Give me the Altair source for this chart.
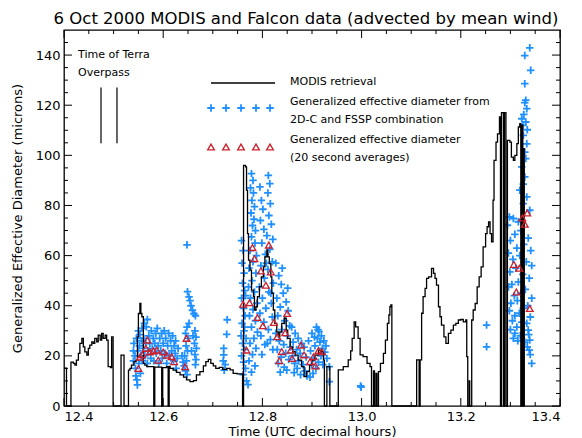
import altair as alt
import pandas as pd

FONT = "DejaVu Sans"

title_text = "6 Oct 2000 MODIS and Falcon data (advected by mean wind)"
x_title = "Time (UTC decimal hours)"
y_title = "Generalized Effective Diameter (microns)"

x_major = [12.4, 12.6, 12.8, 13.0, 13.2, 13.4]
x_minor = [12.45, 12.5, 12.55, 12.65, 12.7, 12.75, 12.85, 12.9, 12.95,
           13.05, 13.1, 13.15, 13.25, 13.3, 13.35]
y_major = [0, 20, 40, 60, 80, 100, 120, 140]
y_minor = [5, 10, 15, 25, 30, 35, 45, 50, 55, 65, 70, 75, 85, 90, 95,
           105, 110, 115, 125, 130, 135, 145]

# MODIS retrieval (time, diameter); 0 = missing retrieval
modis = [
    (12.400, 15.1), (12.405, 0), (12.414, 17.5), (12.419, 17.0), (12.422, 16.3),
    (12.425, 18.3), (12.429, 21.0), (12.432, 25.0), (12.436, 27.0), (12.439, 23.6),
    (12.442, 21.6), (12.446, 20.3), (12.449, 23.0), (12.452, 24.3), (12.456, 25.6),
    (12.459, 25.0), (12.462, 27.0), (12.466, 25.6), (12.469, 28.3), (12.473, 26.3),
    (12.476, 29.0), (12.479, 27.0), (12.483, 28.3), (12.486, 26.3), (12.489, 15.7),
    (12.494, 15.3), (12.496, 27.6), (12.499, 0), (12.515, 20.3), (12.521, 0),
    (12.530, 14.3), (12.533, 15.0), (12.536, 16.3), (12.541, 17.7), (12.545, 18.3),
    (12.548, 27.6), (12.550, 36.9), (12.553, 40.9), (12.555, 36.9), (12.557, 35.6),
    (12.560, 17.0), (12.563, 16.3), (12.567, 15.7), (12.581, 0), (12.583, 15.5),
    (12.597, 0), (12.599, 15.3), (12.607, 15.7), (12.610, 0), (12.612, 15.8),
    (12.614, 15.0), (12.620, 14.3), (12.627, 13.4), (12.634, 12.4), (12.641, 11.5),
    (12.647, 10.4), (12.654, 9.7), (12.661, 10.1), (12.667, 12.4), (12.674, 13.7),
    (12.681, 16.0), (12.686, 17.7), (12.691, 18.6), (12.696, 17.0), (12.701, 16.0),
    (12.706, 15.0), (12.713, 15.4), (12.720, 14.6), (12.728, 15.0), (12.735, 14.4),
    (12.741, 13.0), (12.749, 12.8), (12.758, 12.8), (12.760, 0), (12.762, 96.0),
    (12.766, 95.4), (12.768, 86.1), (12.770, 68.8), (12.772, 58.2), (12.775, 54.2),
    (12.778, 46.2), (12.782, 43.6), (12.784, 38.3), (12.787, 39.6), (12.790, 43.6),
    (12.794, 47.6), (12.798, 51.5), (12.802, 55.5), (12.805, 59.5), (12.809, 62.2),
    (12.811, 59.5), (12.814, 56.8), (12.817, 51.5), (12.819, 44.9), (12.822, 38.3),
    (12.825, 33.0), (12.829, 29.6), (12.832, 27.6), (12.835, 29.6), (12.839, 33.0),
    (12.844, 35.0), (12.848, 30.3), (12.851, 27.0), (12.856, 23.6), (12.861, 21.7),
    (12.866, 20.3), (12.872, 18.3), (12.879, 15.7), (12.884, 11.7), (12.889, 13.7),
    (12.895, 16.3), (12.900, 18.3), (12.906, 20.3), (12.913, 22.3), (12.918, 21.7),
    (12.923, 18.3), (12.925, 0), (12.930, 15.7), (12.936, 0), (12.953, 14.4),
    (12.963, 15.7), (12.973, 18.4), (12.978, 22.0), (12.981, 27.0), (12.985, 33.6),
    (12.988, 31.6), (12.993, 27.0), (12.997, 20.4), (13.003, 19.7), (13.011, 17.0),
    (13.017, 15.7), (13.020, 0), (13.024, 14.0), (13.026, 0), (13.029, 13.0),
    (13.031, 0), (13.034, 13.7), (13.038, 17.0), (13.044, 21.0), (13.048, 26.3),
    (13.052, 33.0), (13.055, 36.3), (13.057, 39.6), (13.059, 40.3), (13.061, 0),
    (13.111, 18.4), (13.116, 0), (13.118, 18.4), (13.121, 37.0), (13.124, 43.6),
    (13.128, 46.9), (13.131, 50.9), (13.135, 51.5), (13.141, 54.9), (13.145, 52.9),
    (13.148, 50.9), (13.151, 48.2), (13.155, 39.6), (13.158, 35.6), (13.161, 32.3),
    (13.166, 27.6), (13.170, 25.0), (13.175, 29.0), (13.180, 30.3), (13.185, 32.3),
    (13.190, 33.0), (13.195, 34.3), (13.200, 34.5), (13.205, 33.6), (13.210, 34.3),
    (13.212, 19.7), (13.214, 0), (13.217, 10.0), (13.218, 0), (13.222, 34.3),
    (13.225, 38.3), (13.229, 40.9), (13.233, 47.5), (13.237, 51.5), (13.241, 55.5),
    (13.245, 63.5), (13.250, 68.8), (13.253, 71.5), (13.256, 73.4), (13.259, 68.8),
    (13.262, 65.5), (13.265, 82.1), (13.267, 98.0), (13.271, 105.3), (13.274, 108.6),
    (13.278, 115.3), (13.280, 0), (13.282, 117.0), (13.286, 0), (13.288, 117.0),
    (13.291, 0), (13.294, 106.0), (13.299, 105.3), (13.302, 99.3), (13.306, 98.0),
    (13.309, 100.0), (13.313, 104.7), (13.316, 111.3), (13.319, 112.6), (13.321, 0),
    (13.323, 112.0), (13.325, 0), (13.327, 102.7), (13.328, 0),
]

# Generalized effective diameter, 2D-C + FSSP (time, diameter)
blue = [
    # 12.54 - 12.63 cloud
    (12.540, 22), (12.540, 18), (12.541, 25), (12.543, 20), (12.544, 15), (12.545, 12),
    (12.546, 27), (12.547, 10.4), (12.548, 8.4), (12.549, 22), (12.550, 30), (12.551, 17),
    (12.552, 24), (12.553, 28.5), (12.554, 13), (12.555, 20), (12.556, 26), (12.557, 31),
    (12.558, 18), (12.560, 23), (12.561, 27), (12.562, 33), (12.563, 20), (12.565, 25),
    (12.566, 31.6), (12.568, 34.5), (12.568, 17), (12.570, 22), (12.571, 28), (12.573, 25),
    (12.575, 19), (12.576, 30), (12.578, 23), (12.580, 27), (12.581, 18), (12.583, 25),
    (12.585, 29), (12.586, 21), (12.588, 31), (12.590, 24), (12.591, 17), (12.593, 27),
    (12.595, 22), (12.597, 29), (12.598, 19), (12.600, 25), (12.602, 30), (12.604, 21),
    (12.605, 27), (12.607, 17), (12.609, 24), (12.611, 29), (12.613, 20), (12.615, 26),
    (12.617, 22), (12.619, 28), (12.621, 18), (12.622, 24), (12.624, 21), (12.626, 15),
    (12.628, 19), (12.630, 23), (12.625, 26),
    # 12.64 - 12.67 column
    (12.648, 64.3), (12.649, 45.6), (12.652, 43.5), (12.654, 42.0), (12.656, 40.0),
    (12.659, 38.2), (12.662, 36.8), (12.665, 36.0), (12.648, 31.5), (12.645, 29),
    (12.650, 27), (12.646, 24), (12.649, 22), (12.643, 20), (12.647, 18), (12.642, 16),
    (12.645, 14), (12.648, 12.5), (12.664, 30), (12.666, 27.5), (12.663, 25), (12.667, 23),
    (12.664, 20.5), (12.666, 18.5), (12.665, 16.5), (12.638, 20), (12.640, 17.5),
    (12.652, 33), (12.660, 28), (12.657, 22),
    # 12.72 column
    (12.729, 34.4), (12.728, 28.6), (12.722, 23.0), (12.722, 20.4), (12.721, 18.0),
    (12.725, 16.5), (12.723, 14.3),
    # main cloud
    (12.758, 66), (12.761, 62), (12.759, 57), (12.763, 53), (12.760, 49), (12.764, 46),
    (12.758, 43), (12.762, 39), (12.765, 36), (12.759, 33), (12.763, 30), (12.767, 27),
    (12.760, 25), (12.764, 22.5), (12.758, 20), (12.762, 17.5), (12.766, 15), (12.761, 12.5),
    (12.768, 10), (12.764, 31.5), (12.766, 44), (12.757, 28),
    (12.778, 92.7), (12.781, 90), (12.776, 87), (12.782, 85), (12.779, 82), (12.784, 79.5),
    (12.777, 77), (12.783, 74.5), (12.780, 72), (12.786, 70), (12.778, 67.5), (12.785, 65),
    (12.775, 62), (12.788, 60), (12.781, 57.5), (12.773, 55), (12.787, 53), (12.779, 50),
    (12.772, 47.5), (12.784, 45.5), (12.776, 43), (12.789, 41), (12.781, 38.5), (12.774, 36),
    (12.786, 34), (12.778, 31.5), (12.790, 29.5), (12.783, 27), (12.775, 25), (12.787, 23),
    (12.780, 20.5), (12.773, 18), (12.785, 16), (12.778, 13.5), (12.771, 8.5),
    (12.812, 92.0), (12.815, 88.7), (12.795, 87.4), (12.811, 85), (12.798, 82), (12.816, 80.7),
    (12.801, 78.5), (12.813, 76), (12.796, 74), (12.818, 72.5), (12.803, 70.5), (12.809, 68),
    (12.821, 66.5), (12.799, 65), (12.815, 62.5), (12.806, 60.5), (12.820, 57.5), (12.797, 56),
    (12.811, 54.5), (12.804, 51), (12.822, 49), (12.794, 47.5), (12.813, 45.5), (12.800, 43),
    (12.818, 41), (12.807, 39), (12.795, 37), (12.820, 35.5), (12.803, 33.5), (12.812, 30.5),
    (12.797, 28), (12.816, 26.5), (12.805, 24.5), (12.821, 22.5), (12.799, 20.5), (12.810, 25),
    (12.808, 57), (12.817, 45),
    (12.827, 57), (12.833, 52), (12.838, 48.5), (12.842, 45), (12.829, 43), (12.848, 41.5),
    (12.836, 39.5), (12.852, 38), (12.831, 36), (12.845, 34), (12.855, 32), (12.839, 30.5),
    (12.827, 29), (12.850, 28), (12.834, 26), (12.843, 24.5), (12.856, 23.5), (12.830, 22.5),
    (12.847, 21), (12.838, 19.5), (12.853, 18.5), (12.832, 17), (12.844, 15.5), (12.849, 14.3),
    (12.836, 13.5), (12.851, 47), (12.840, 55),
    (12.859, 31.5), (12.866, 29), (12.872, 27), (12.862, 25.5), (12.879, 25), (12.884, 23.5),
    (12.869, 22.5), (12.876, 21), (12.861, 20), (12.888, 19.5), (12.873, 18), (12.865, 17),
    (12.882, 16.5), (12.870, 15), (12.886, 14), (12.877, 12.5), (12.890, 12), (12.864, 13.3),
    (12.893, 26), (12.897, 22), (12.900, 29), (12.903, 19), (12.906, 24), (12.909, 31.5),
    (12.912, 30.5), (12.914, 29.8), (12.911, 27), (12.916, 25.5), (12.919, 28), (12.921, 23),
    (12.918, 20), (12.924, 26), (12.926, 21.5), (12.913, 17.5), (12.908, 15), (12.902, 13),
    (12.896, 11.5), (12.922, 16.5), (12.928, 24), (12.930, 19), (12.905, 27.5), (12.899, 16.5),
    (12.935, 15.7), (12.935, 9.7), (12.998, 8.0), (12.999, 7.5),
    # 13.25 - 13.34
    (13.252, 32.3), (13.252, 23.6),
    (13.339, 142.9), (13.329, 139.8), (13.341, 133.9), (13.329, 128.6), (13.331, 122),
    (13.329, 121), (13.333, 118.6), (13.327, 116.3), (13.323, 114.6), (13.331, 113.3),
    (13.325, 112), (13.334, 110.2), (13.326, 108), (13.333, 104.6), (13.329, 101.3),
    (13.331, 98.7), (13.323, 95.4), (13.329, 91.4), (13.326, 88.5), (13.319, 86.1),
    (13.333, 83.4), (13.326, 80.7), (13.339, 78.1),
    (13.298, 75.4), (13.294, 72.1), (13.306, 74.8), (13.316, 73.5), (13.321, 70),
    (13.309, 68.5), (13.336, 67), (13.300, 66), (13.327, 64.5), (13.313, 63), (13.341, 62),
    (13.296, 61), (13.319, 60), (13.305, 58.5), (13.332, 57.5), (13.343, 56), (13.311, 55),
    (13.299, 53.5), (13.325, 52.5), (13.338, 51), (13.316, 49.5), (13.303, 48.5),
    (13.296, 47.5), (13.330, 46.5), (13.321, 45), (13.308, 44), (13.343, 43), (13.314, 42),
    (13.301, 41), (13.335, 40), (13.326, 39), (13.298, 38), (13.318, 37), (13.309, 36),
    (13.340, 35.5), (13.304, 34), (13.323, 33.5), (13.333, 33), (13.313, 31.5),
    (13.300, 30.5), (13.336, 30.3), (13.309, 29), (13.320, 28), (13.339, 26.3),
    (13.329, 25.5), (13.334, 23.6), (13.338, 22.3), (13.340, 20.5), (13.343, 17),
    (13.337, 28.5), (13.306, 27), (13.315, 26),
]

# 20 second averages (time, diameter)
red = [
    (12.550, 15.0), (12.553, 19.5), (12.558, 20.5), (12.565, 23.0), (12.568, 26.3),
    (12.573, 21.6), (12.580, 22.0), (12.587, 22.3), (12.590, 18.3), (12.600, 21.6),
    (12.607, 20.3), (12.617, 19.7), (12.622, 17.7), (12.644, 15.7), (12.647, 27.0),
    (12.761, 40.6), (12.774, 41.2), (12.768, 22.3), (12.780, 63.2), (12.784, 58.8),
    (12.797, 53.9), (12.807, 48.2), (12.813, 64.2), (12.817, 53.5), (12.790, 35.3),
    (12.801, 32.0), (12.823, 33.3), (12.830, 27.6), (12.850, 36.9), (12.846, 29.2),
    (12.839, 21.7), (12.834, 18.1), (12.857, 22.3), (12.860, 19.0), (12.878, 24.3),
    (12.884, 20.4), (12.896, 17.7), (12.903, 19.7), (12.907, 16.0), (12.913, 22.1),
    (12.920, 21.7),
    (13.334, 77.0), (13.324, 75.0), (13.329, 72.5), (13.307, 56.5), (13.318, 55.0),
    (13.312, 45.5), (13.339, 38.9),
]

overpass_time = [12.4746, 12.5068]
overpass_low = [104.8, 104.8]
overpass_high = [127.1, 127.1]

legend_labels = ["MODIS retrieval", "Generalized effective diameter from",
                 "2D-C and FSSP combination", "Generalized effective diameter",
                 "(20 second averages)"]
legend_label_y = [52, 72, 90, 110, 128]
legend_symbol_x = [147, 162, 177, 192, 206]
note_labels = ["Time of Terra", "Overpass"]
note_y = [25, 43]

W, H = 496, 376

df_modis = pd.DataFrame(modis, columns=["t", "d"])
df_blue = pd.DataFrame(blue, columns=["t", "d"])
df_red = pd.DataFrame(red, columns=["t", "d"])
df_over = pd.DataFrame({"t": overpass_time, "lo": overpass_low, "hi": overpass_high})

xs = alt.Scale(domain=[12.4, 13.4], nice=False, zero=False)
ys = alt.Scale(domain=[0, 150], nice=False, zero=True)

x_axis = alt.Axis(values=x_major, format=".1f", ticks=False, domain=False, grid=False,
                  labelFont=FONT, labelFontSize=13, labelColor="black", labelPadding=4,
                  title=x_title, titleFont=FONT, titleFontSize=13,
                  titleFontWeight="normal", titleColor="black", titlePadding=2)
y_axis = alt.Axis(values=y_major, format="d", ticks=False, domain=False, grid=False,
                  labelFont=FONT, labelFontSize=13, labelColor="black", labelPadding=4,
                  title=y_title, titleFont=FONT, titleFontSize=13,
                  titleFontWeight="normal", titleColor="black", titlePadding=11)


def X(field):
    return alt.X(field, scale=xs, axis=x_axis)


def Y(field):
    return alt.Y(field, scale=ys, axis=y_axis)


PLUS = "M-1,0L1,0M0,-1L0,1"
BLUE = "#1E90FF"
RED = "#CC1F2B"

blue_layer = alt.Chart(df_blue).mark_point(
    shape=PLUS, filled=False, stroke=BLUE, strokeWidth=1.8, size=56, opacity=1
).encode(x=X("t:Q"), y=Y("d:Q"))

line_layer = alt.Chart(df_modis).mark_line(
    interpolate="step-after", color="black", strokeWidth=1.3
).encode(x=X("t:Q"), y=Y("d:Q"), order="t:Q")

red_layer = alt.Chart(df_red).mark_point(
    shape="triangle-up", filled=False, stroke=RED, strokeWidth=1.3, size=45, opacity=1
).encode(x=X("t:Q"), y=Y("d:Q"))

over_layer = alt.Chart(df_over).mark_rule(color="#333333", strokeWidth=1.5).encode(
    x=X("t:Q"), y=Y("lo:Q"), y2="hi:Q"
)


# inward tick marks on all four sides, positioned through the scales
def x_ticks(values, y0, y1):
    return alt.Chart(pd.DataFrame({"t": values})).mark_rule(
        color="black", strokeWidth=1
    ).encode(x=X("t:Q"), y=alt.value(y0), y2=alt.value(y1))


def y_ticks(values, x0, x1):
    return alt.Chart(pd.DataFrame({"d": values})).mark_rule(
        color="black", strokeWidth=1
    ).encode(y=Y("d:Q"), x=alt.value(x0), x2=alt.value(x1))


tick_layers = [
    x_ticks(x_major, H, H - 8), x_ticks(x_minor, H, H - 4),
    x_ticks(x_major, 0, 8), x_ticks(x_minor, 0, 4),
    y_ticks(y_major, 0, 8), y_ticks(y_minor, 0, 4),
    y_ticks(y_major, W, W - 8), y_ticks(y_minor, W, W - 4),
]

one = pd.DataFrame({"k": [0]})
leg_line = alt.Chart(one).mark_rule(color="black", strokeWidth=1.3).encode(
    x=alt.value(147), x2=alt.value(211), y=alt.value(53)
)
df_sym = pd.DataFrame({"px": legend_symbol_x})
leg_plus = alt.Chart(df_sym).mark_point(
    shape=PLUS, filled=False, stroke=BLUE, strokeWidth=1.8, size=56, opacity=1
).encode(x=alt.X("px:Q", scale=None, axis=None), y=alt.value(78))
leg_tri = alt.Chart(df_sym).mark_point(
    shape="triangle-up", filled=False, stroke=RED, strokeWidth=1.3, size=45, opacity=1
).encode(x=alt.X("px:Q", scale=None, axis=None), y=alt.value(117))

df_leg_text = pd.DataFrame({"label": legend_labels, "py": legend_label_y})
leg_text = alt.Chart(df_leg_text).mark_text(
    align="left", baseline="middle", font=FONT, fontSize=11, color="black"
).encode(x=alt.value(226), y=alt.Y("py:Q", scale=None, axis=None), text="label:N")

df_note = pd.DataFrame({"label": note_labels, "py": note_y})
note_text = alt.Chart(df_note).mark_text(
    align="left", baseline="middle", font=FONT, fontSize=11, color="black"
).encode(x=alt.value(14), y=alt.Y("py:Q", scale=None, axis=None), text="label:N")

chart = alt.layer(
    blue_layer, line_layer, red_layer, over_layer, *tick_layers,
    leg_line, leg_plus, leg_tri, leg_text, note_text,
).properties(
    width=W, height=H,
    title=alt.TitleParams(title_text, font=FONT, fontSize=16.5, fontWeight="normal",
                          color="black", anchor="middle", offset=2, dx=-6),
    autosize=alt.AutoSizeParams(type="none"),
    padding={"left": 56, "top": 22, "right": 14, "bottom": 32},
).configure_view(stroke="black", strokeWidth=1.3)

chart.save("out.html", embed_options={"renderer": "svg", "actions": False})
